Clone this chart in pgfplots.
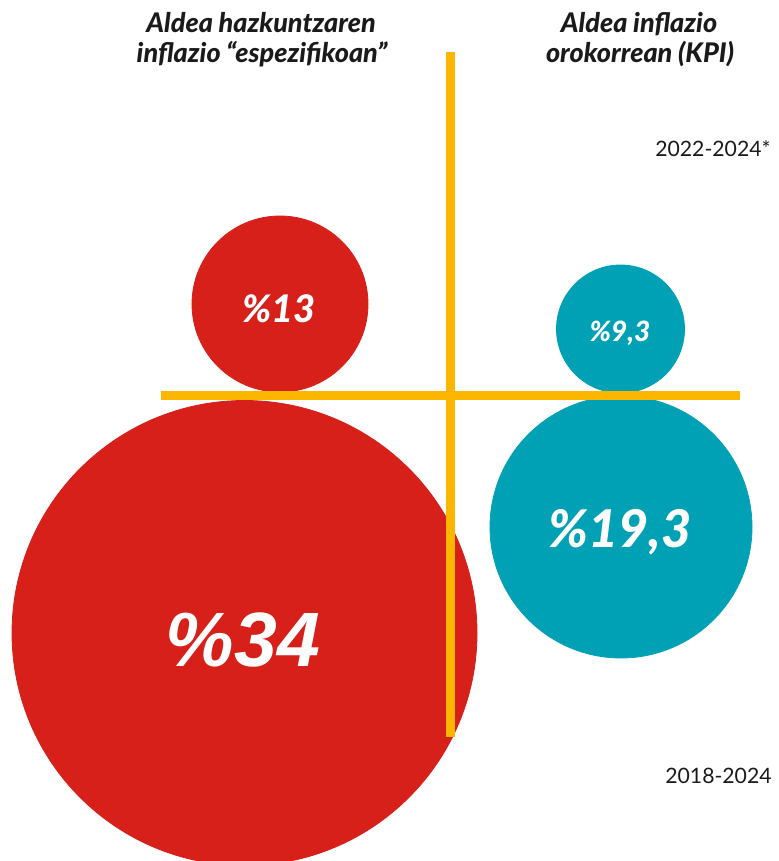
\documentclass[border=0pt]{standalone}
\usepackage{fontspec}
\setmainfont{Lato}
\newfontfamily\latoblack{Lato Black}
\newfontfamily\libsans{Liberation Sans}
\usepackage{pgfplots}
\pgfplotsset{compat=1.18}
\definecolor{cred}{HTML}{D7201A}
\definecolor{cteal}{HTML}{00A1B5}
\definecolor{corange}{HTML}{FDB600}
\definecolor{ctext}{HTML}{1A1A1A}
\begin{document}
\begin{tikzpicture}
\begin{axis}[
  width=389pt, height=430.5pt, scale only axis,
  xmin=0, xmax=778, ymin=0, ymax=861, y dir=reverse,
  hide axis, clip=true, clip marker paths=true,
]
\path (axis cs:0,0) rectangle (axis cs:778,861);
% bubbles (centre in px, radius in pt = px/2)
\addplot[only marks, mark=*, mark size=116.25pt, cred, mark options={draw=none, fill=cred}] coordinates {(244.5,633)};
\addplot[only marks, mark=*, mark size=44pt, cred, mark options={draw=none, fill=cred}] coordinates {(280,304)};
\addplot[only marks, mark=*, mark size=32pt, cteal, mark options={draw=none, fill=cteal}] coordinates {(620.5,329)};
\addplot[only marks, mark=*, mark size=65.5pt, cteal, mark options={draw=none, fill=cteal}] coordinates {(621,527)};
% cross lines
\addplot[corange, line width=4.5pt, line cap=butt] coordinates {(450.5,52) (450.5,737)};
\addplot[corange, line width=4.5pt, line cap=butt] coordinates {(161,395.5) (740,395.5)};
% bubble labels
\node[anchor=base, text=white, font=\libsans\fontsize{38.5}{40}\selectfont\bfseries\itshape] at (axis cs:243,666) {\%34};
\node[anchor=base, text=white, font=\latoblack\fontsize{19}{19}\selectfont\itshape] at (axis cs:279,322) {\%13};
\node[anchor=base, text=white, font=\latoblack\fontsize{14}{14}\selectfont\itshape] at (axis cs:620,341) {\%9,3};
\node[anchor=base, text=white, font=\latoblack\fontsize{26}{26}\selectfont\itshape] at (axis cs:620,547) {\%19,3};
% titles
\node[anchor=base, text=ctext, font=\latoblack\fontsize{13.5}{15}\selectfont\itshape] at (axis cs:261,33) {Aldea hazkuntzaren};
\node[anchor=base, text=ctext, font=\latoblack\fontsize{13.5}{15}\selectfont\itshape] at (axis cs:262,63) {inflazio “espezifikoan”};
\node[anchor=base, text=ctext, font=\latoblack\fontsize{13.5}{15}\selectfont\itshape] at (axis cs:639,33) {Aldea inflazio};
\node[anchor=base, text=ctext, font=\latoblack\fontsize{13.5}{15}\selectfont\itshape] at (axis cs:640,63) {orokorrean (KPI)};
% periods
\node[anchor=base east, inner sep=0pt, text=ctext, font=\fontsize{10.6}{13}\selectfont] at (axis cs:771,157) {2022-2024*};
\node[anchor=base east, inner sep=0pt, text=ctext, font=\fontsize{10.6}{13}\selectfont] at (axis cs:772,783) {2018-2024};
\end{axis}
\end{tikzpicture}
\end{document}
